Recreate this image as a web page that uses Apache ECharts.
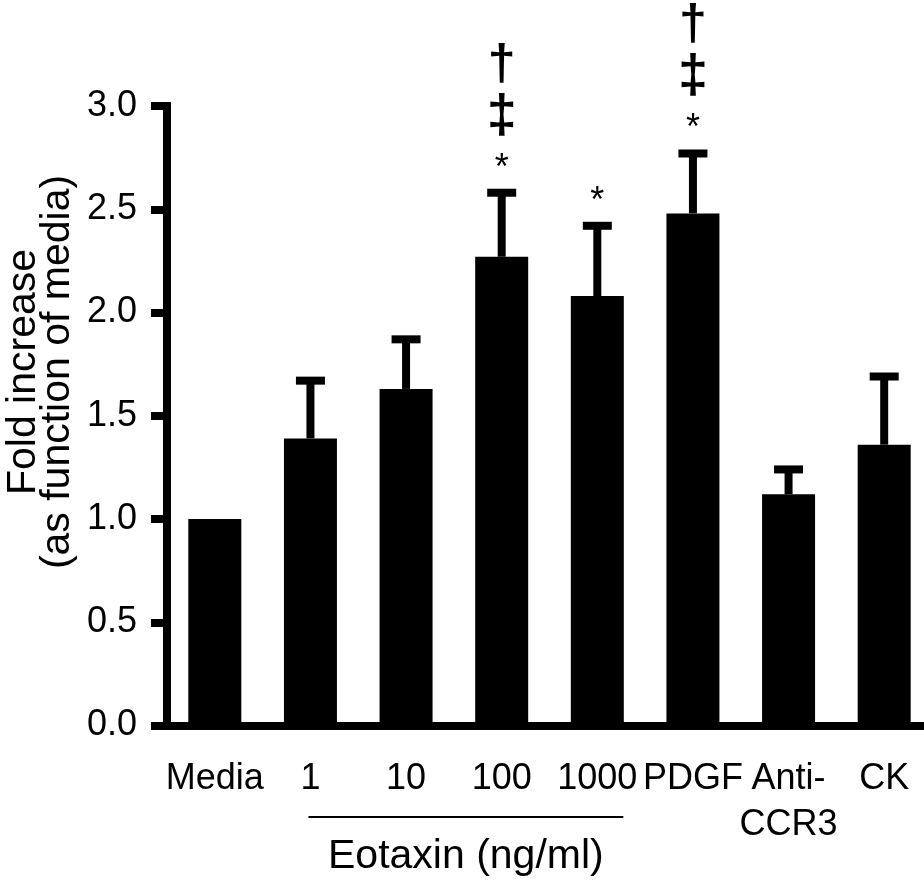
<!DOCTYPE html>
<html><head><meta charset="utf-8">
<script src="https://cdn.jsdelivr.net/npm/echarts@6/dist/echarts.min.js"></script>
<style>html,body{margin:0;padding:0;background:#fff}#c{width:924px;height:880px}</style>
</head><body><div id="c"></div>
<script>
// ---- data ----
const categories = ['Media', '1', '10', '100', '1000', 'PDGF', 'Anti-\nCCR3', 'CK'];
const meanValues = [1.00, 1.39, 1.63, 2.27, 2.08, 2.48, 1.12, 1.36];
const errorTops  = [null, 1.67, 1.87, 2.58, 2.42, 2.77, 1.24, 1.69];
const significance = ['', '', '', '*‡†', '*', '*‡†', '', ''];
const yTickLabels = ['0.0', '0.5', '1.0', '1.5', '2.0', '2.5', '3.0'];
const yTitleLines = ['Fold increase', '(as function of media)'];
const groupLabel = 'Eotaxin (ng/ml)';
const groupStart = 1, groupEnd = 4;

const FONT = '"Liberation Sans", Arial, Helvetica, sans-serif';
const chart = echarts.init(document.getElementById('c'), null, {renderer: 'canvas'});

const errData = categories.map((c, i) => [i, meanValues[i], errorTops[i] == null ? meanValues[i] : errorTops[i]]);
const sigData = categories.map((c, i) => [i, errorTops[i] == null ? meanValues[i] : errorTops[i], i]);

const option = {
  animation: false,
  backgroundColor: '#fff',
  grid: {left: 167, right: -8, top: 106, bottom: 154.5, containLabel: false, outerBoundsMode: 'none'},
  xAxis: {
    type: 'category', data: categories,
    axisLine: {show: true, lineStyle: {color: '#000', width: 8}},
    axisTick: {show: false},
    axisLabel: {color: '#000', fontSize: 36, fontFamily: FONT, margin: 31, lineHeight: 46, interval: 0, hideOverlap: false}
  },
  yAxis: {
    type: 'value', min: 0, max: 3, interval: 0.5,
    axisLine: {show: true, lineStyle: {color: '#000', width: 8, cap: 'square'}},
    axisTick: {show: true, length: 16, lineStyle: {color: '#000', width: 8}},
    axisLabel: {color: '#000', fontSize: 36, fontFamily: FONT, margin: 30,
      formatter: (v) => yTickLabels[Math.round(v / 0.5)]},
    splitLine: {show: false}
  },
  series: [
    {type: 'bar', data: meanValues, barWidth: 53, itemStyle: {color: '#000'}, z: 2},
    {
      type: 'custom', data: errData, z: 3,
      renderItem: function (params, api) {
        const i = api.value(0), m = api.value(1), t = api.value(2);
        if (!(t > m)) return null;
        const b = api.coord([i, m]), p = api.coord([i, t]);
        const st = {stroke: '#000', lineWidth: 8};
        return {type: 'group', children: [
          {type: 'line', shape: {x1: p[0], y1: b[1], x2: p[0], y2: p[1]}, style: st},
          {type: 'line', shape: {x1: p[0] - 14.5, y1: p[1], x2: p[0] + 14.5, y2: p[1]}, style: st}
        ]};
      }
    },
    {
      type: 'custom', data: sigData, z: 4,
      renderItem: function (params, api) {
        const i = api.value(0), t = api.value(1);
        const s = significance[i];
        if (!s) return null;
        const p = api.coord([i, t]);
        const children = [];
        const conf = {'*': {dy: -24, size: 36, w: 'normal'}, '‡': {dy: -76, size: 54, w: 'bold'}, '†': {dy: -128, size: 50, w: 'bold'}};
        for (const ch of s) {
          const c = conf[ch];
          children.push({type: 'text', style: {text: ch, x: p[0], y: p[1] + c.dy, fill: '#000',
            font: c.w + ' ' + c.size + 'px ' + FONT, align: 'center', verticalAlign: 'middle'}});
        }
        return {type: 'group', children};
      }
    }
  ]
};
chart.setOption(option);

const x1 = chart.convertToPixel({xAxisIndex: 0}, groupStart);
const x4 = chart.convertToPixel({xAxisIndex: 0}, groupEnd);
chart.setOption({
  graphic: [
    {type: 'line', shape: {x1: x1 - 2, y1: 817, x2: x4 + 26, y2: 817}, style: {stroke: '#000', lineWidth: 2}},
    {type: 'text', style: {text: groupLabel, x: (x1 - 2 + x4 + 26) / 2, y: 857, fill: '#000',
      font: '41px ' + FONT, align: 'center', verticalAlign: 'middle'}},
    {type: 'text', x: 41, y: 372, rotation: Math.PI / 2, style: {text: yTitleLines.join('\n'), x: 0, y: 0, fill: '#000',
      font: '41px ' + FONT, align: 'center', verticalAlign: 'middle', lineHeight: 34}}
  ]
});
</script></body></html>
